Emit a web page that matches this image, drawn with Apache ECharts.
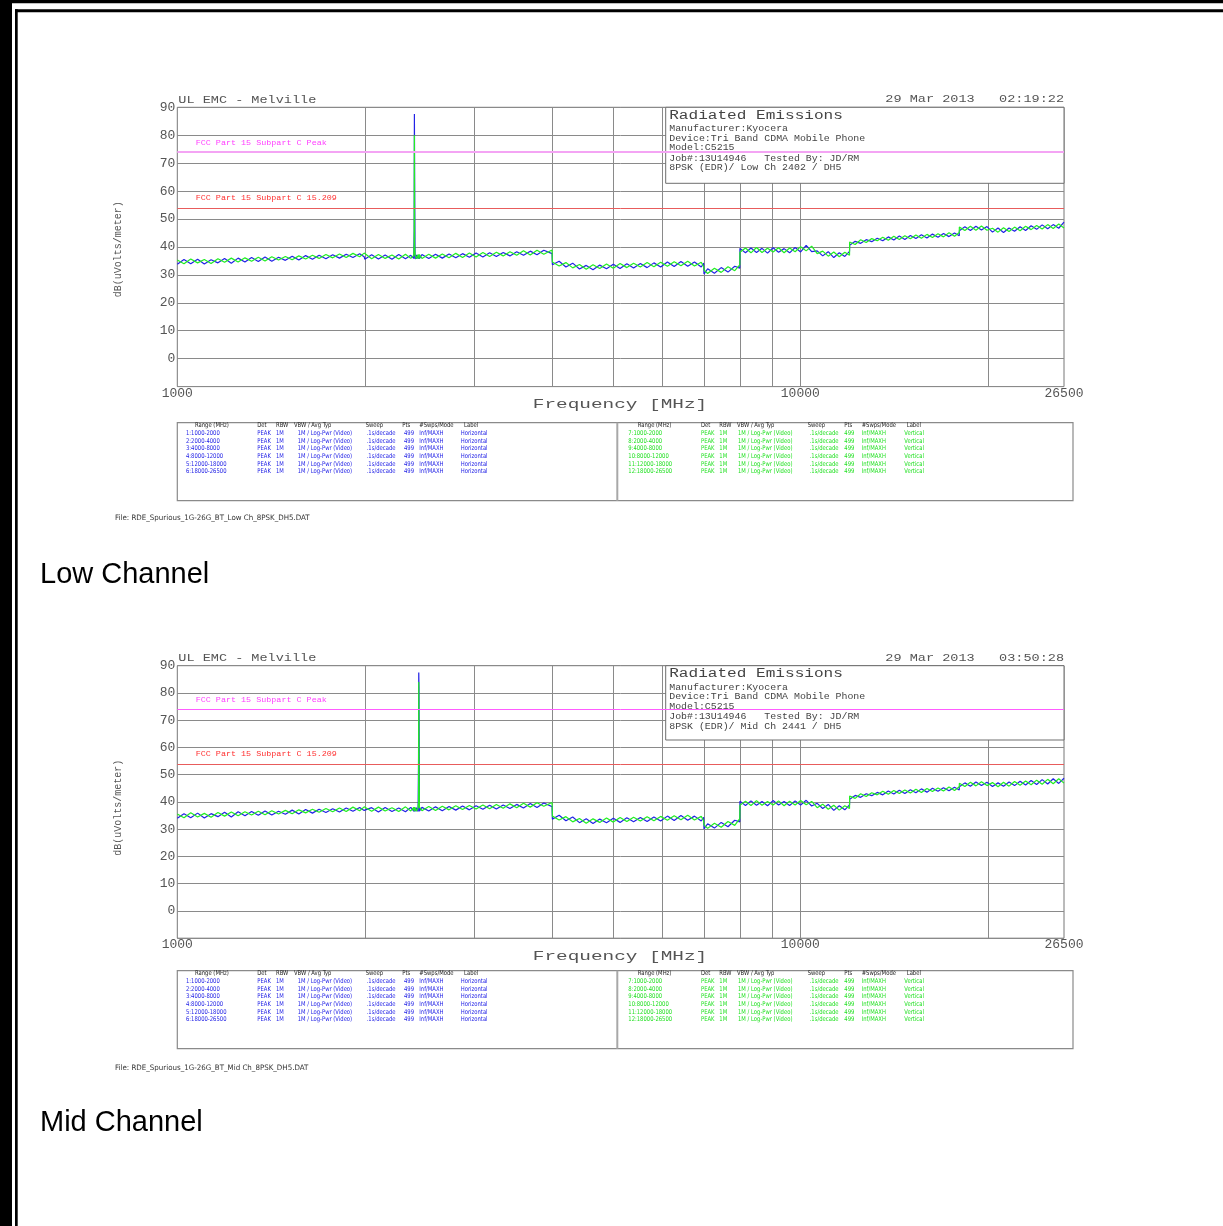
<!DOCTYPE html>
<html>
<head>
<meta charset="utf-8">
<title>Radiated Emissions 1G-26G</title>
<script src="https://cdn.jsdelivr.net/npm/echarts@6/dist/echarts.min.js"></script>
<style>
  html, body { margin: 0; padding: 0; background: #fff; }
  #chart { width: 1223px; height: 1226px; }
</style>
</head>
<body>
<div id="chart"></div>
<script>
// frequency points of the scan (MHz), one row per range
var FREQ = [
  1000, 1025, 1051, 1078, 1105, 1133, 1162, 1191, 1221, 1252, 1284, 1316, 1349, 1383, 1418, 1454, 1491, 1529, 1567, 1607, 1648, 1689, 1732, 1776, 1821, 1867, 1914, 1962, 1995,
  2000, 2051, 2103, 2156, 2211, 2267, 2324, 2370, 2396, 2400, 2402, 2404, 2408, 2420, 2435, 2439, 2441, 2443, 2447, 2470, 2533, 2597, 2663, 2730, 2799, 2870, 2943, 3017, 3094, 3172, 3252, 3335, 3419, 3506, 3595, 3686, 3779, 3875, 3995,
  4000, 4101, 4205, 4312, 4421, 4533, 4648, 4765, 4886, 5010, 5137, 5267, 5400, 5537, 5677, 5821, 5968, 6119, 6274, 6433, 6596, 6763, 6934, 6995, 7005, 7100, 7280, 7465, 7654, 7848, 7995,
  8000, 8165, 8333, 8505, 8680, 8859, 9042, 9228, 9418, 9612, 9810, 10012, 10219, 10429, 10644, 10863, 11087, 11316, 11549, 11787, 11995,
  12000, 12248, 12500, 12758, 13021, 13289, 13563, 13843, 14128, 14419, 14716, 15020, 15329, 15645, 15968, 16297, 16633, 16975, 17325, 17682, 17995,
  18000, 18372, 18750, 19137, 19531, 19934, 20345, 20764, 21192, 21629, 22075, 22530, 22994, 23468, 23952, 24446, 24950, 25464, 25989, 26500
];

// Low channel, horizontal (blue)
var LOW_H = [
  33.8, 35.5, 34.0, 35.6, 33.9, 35.4, 34.3, 35.9, 34.2, 36.0, 34.6, 36.2, 34.8, 36.4, 34.9, 36.3, 35.2, 36.7, 35.3, 36.9, 35.6, 37.0, 35.8, 37.2, 36.0, 37.4, 36.2, 37.6, 36.5,
  35.6, 37.2, 35.7, 37.1, 35.6, 37.3, 35.8, 37.0, 35.9, 46.0, 87.6, 64.5, 35.7, 37.1, 35.8, 37.2, 35.9, 37.0, 35.8, 37.3, 35.9, 37.4, 36.0, 37.5, 36.1, 37.6, 36.3, 37.8, 36.4, 37.9, 36.6, 38.0, 36.8, 38.3, 37.0, 38.5, 37.2, 38.8, 37.6,
  33.6, 34.9, 32.8, 34.2, 32.1, 33.4, 31.8, 33.5, 32.2, 33.8, 32.3, 34.0, 32.5, 34.1, 32.6, 34.3, 32.8, 34.6, 33.0, 34.8, 33.1, 34.6, 32.8, 34.2, 30.3, 32.2, 30.6, 32.6, 31.0, 33.1, 32.4,
  39.5, 37.9, 39.6, 38.0, 39.5, 37.8, 39.7, 38.1, 39.4, 37.9, 39.8, 38.2, 40.6, 38.3, 38.6, 36.8, 38.3, 36.2, 37.9, 36.6, 38.4,
  40.6, 42.0, 41.3, 42.6, 41.9, 43.1, 42.2, 43.6, 42.5, 43.9, 42.7, 44.1, 43.0, 44.4, 43.2, 44.6, 43.5, 44.8, 43.7, 45.0, 44.0,
  45.8, 47.2, 45.9, 47.4, 46.1, 47.3, 45.3, 46.8, 45.2, 46.8, 45.6, 47.2, 45.9, 47.6, 46.3, 47.9, 46.5, 48.0, 46.7, 48.9
];
// Low channel, vertical (green)
var LOW_V = [
  35.3, 34.0, 35.7, 34.3, 35.5, 34.1, 35.8, 34.5, 36.0, 34.6, 36.1, 34.9, 36.3, 35.0, 36.5, 35.3, 36.6, 35.4, 36.8, 35.7, 37.0, 35.9, 37.3, 36.1, 37.5, 36.2, 37.7, 36.5, 37.8,
  37.2, 35.8, 37.3, 35.9, 37.1, 35.7, 37.4, 35.9, 37.0, 41.0, 80.0, 40.5, 37.2, 35.8, 37.3, 35.9, 37.0, 35.7, 37.3, 35.9, 37.4, 36.0, 37.5, 36.1, 37.7, 36.2, 37.8, 36.4, 38.0, 36.6, 38.1, 36.8, 38.3, 37.0, 38.6, 37.1, 38.8, 37.4, 38.9,
  34.6, 33.2, 34.4, 32.5, 33.7, 32.0, 33.6, 32.3, 33.9, 32.4, 34.1, 32.6, 34.2, 32.8, 34.4, 32.9, 34.5, 33.1, 34.7, 33.3, 34.9, 33.2, 34.5, 32.9, 31.8, 30.5, 32.4, 30.9, 32.9, 31.5, 33.6,
  38.1, 39.6, 37.9, 39.8, 38.0, 39.5, 38.2, 39.7, 37.9, 39.6, 38.3, 40.1, 38.6, 40.3, 37.6, 38.5, 36.7, 38.2, 36.5, 38.1, 37.0,
  41.8, 40.9, 42.6, 41.6, 43.0, 42.2, 43.5, 42.4, 43.8, 42.7, 44.0, 42.9, 44.3, 43.1, 44.5, 43.4, 44.7, 43.6, 45.1, 43.8, 45.2,
  47.1, 45.9, 47.4, 46.0, 47.5, 46.0, 46.7, 45.3, 46.9, 45.5, 47.1, 45.8, 47.4, 46.2, 47.7, 46.4, 48.0, 46.6, 48.2, 46.8
];

// Mid channel, horizontal (blue)
var MID_H = [
  34.0, 35.7, 34.2, 35.9, 34.1, 35.7, 34.6, 36.2, 34.5, 36.4, 34.9, 36.5, 35.1, 36.7, 35.2, 36.6, 35.5, 37.0, 35.6, 37.2, 35.9, 37.3, 36.1, 37.5, 36.3, 37.8, 36.6, 38.0, 36.9,
  36.4, 37.9, 36.3, 38.0, 36.5, 37.8, 36.4, 38.0, 36.6, 37.7, 36.5, 38.1, 36.6, 37.9, 36.5, 56.0, 87.5, 82.0, 36.6, 38.0, 36.7, 38.2, 36.8, 38.3, 37.0, 38.5, 37.1, 38.6, 37.3, 38.8, 37.4, 38.9, 37.6, 39.1, 37.8, 39.4, 38.0, 39.6, 38.3,
  33.7, 35.1, 33.1, 34.5, 32.4, 33.8, 32.1, 33.7, 32.4, 34.0, 32.5, 34.2, 32.7, 34.3, 32.8, 34.5, 33.0, 34.8, 33.2, 35.0, 33.3, 34.8, 33.0, 34.4, 30.1, 32.0, 30.4, 32.5, 30.9, 33.3, 32.7,
  40.3, 38.7, 40.4, 38.8, 40.2, 38.6, 40.5, 38.9, 40.2, 38.7, 40.4, 38.9, 40.6, 38.5, 39.5, 37.6, 39.1, 36.9, 38.6, 37.1, 38.9,
  41.0, 42.4, 41.7, 43.0, 42.3, 43.5, 42.6, 44.0, 42.9, 44.3, 43.1, 44.5, 43.4, 44.8, 43.6, 45.0, 43.9, 45.2, 44.1, 45.4, 44.4,
  45.6, 47.0, 45.8, 47.3, 46.0, 47.2, 45.7, 47.0, 45.8, 47.3, 46.0, 47.6, 46.2, 47.9, 46.4, 48.2, 46.6, 48.5, 46.8, 48.7
];
// Mid channel, vertical (green)
var MID_V = [
  35.6, 34.2, 36.0, 34.5, 35.8, 34.4, 36.1, 34.8, 36.3, 34.9, 36.4, 35.2, 36.6, 35.3, 36.8, 35.6, 36.9, 35.7, 37.1, 36.0, 37.3, 36.2, 37.6, 36.4, 37.8, 36.5, 38.1, 36.8, 38.2,
  38.0, 36.6, 38.1, 36.7, 37.9, 36.5, 38.2, 36.7, 38.0, 36.6, 38.1, 36.8, 37.9, 36.6, 38.0, 40.0, 84.0, 53.0, 38.1, 36.8, 38.3, 36.9, 38.4, 37.1, 38.6, 37.2, 38.7, 37.4, 38.9, 37.5, 39.1, 37.7, 39.3, 37.9, 39.5, 38.1, 39.7, 38.4, 39.8,
  34.8, 33.4, 34.6, 32.7, 33.9, 32.2, 33.8, 32.5, 34.1, 32.6, 34.3, 32.8, 34.4, 33.0, 34.6, 33.1, 34.7, 33.3, 34.9, 33.5, 35.1, 33.4, 34.7, 33.1, 31.6, 30.3, 32.2, 30.7, 32.8, 31.4, 33.9,
  38.8, 40.3, 38.7, 40.5, 38.8, 40.2, 38.9, 40.4, 38.6, 40.3, 38.9, 40.5, 39.0, 40.2, 37.9, 39.2, 37.3, 38.8, 37.0, 38.6, 37.6,
  42.2, 41.3, 43.0, 42.0, 43.4, 42.6, 43.9, 42.8, 44.2, 43.1, 44.4, 43.3, 44.7, 43.5, 44.9, 43.8, 45.1, 44.0, 45.5, 44.2, 45.6,
  46.9, 45.7, 47.2, 45.9, 47.4, 46.0, 47.1, 45.6, 47.2, 45.8, 47.5, 46.1, 47.7, 46.3, 48.0, 46.5, 48.3, 46.7, 48.5, 46.9
];

var GRID_FREQ = [2000, 3000, 4000, 5000, 6000, 7000, 8000, 9000, 10000, 20000];
var LIMIT_PEAK = 74;   // FCC Part 15 Subpart C Peak
var LIMIT_209 = 54;    // FCC Part 15 Subpart C 15.209

var INFO_LOW = ['Manufacturer:Kyocera', 'Device:Tri Band CDMA Mobile Phone', 'Model:C5215',
  'Job#:13U14946   Tested By: JD/RM', '8PSK (EDR)/ Low Ch 2402 / DH5'];
var INFO_MID = ['Manufacturer:Kyocera', 'Device:Tri Band CDMA Mobile Phone', 'Model:C5215',
  'Job#:13U14946   Tested By: JD/RM', '8PSK (EDR)/ Mid Ch 2441 / DH5'];

var TABLE_HEAD = ['Range (MHz)', 'Det', 'RBW', 'VBW / Avg Typ', 'Sweep', 'Pts', '#Swps/Mode', 'Label'];
var RANGES_H = ['1:1000-2000', '2:2000-4000', '3:4000-8000', '4:8000-12000', '5:12000-18000', '6:18000-26500'];
var RANGES_V = ['7:1000-2000', '8:2000-4000', '9:4000-8000', '10:8000-12000', '11:12000-18000', '12:18000-26500'];
var ROW_SETTINGS = ['PEAK', '1M', '1M / Log-Pwr (Video)', '.1s/decade', '499', 'Inf/MAXH'];

var MONO = '"Liberation Mono", "DejaVu Sans Mono", monospace';
var NARROW = '"DejaVu Sans Condensed", "DejaVu Sans", sans-serif';
var BLUE = '#2222e6';
var GREEN = '#22ee22';

var PANELS = [
  { top: 107.3, height: 279.3, boxH: 76, tableTop: 422.7, fileY: 518.5, nameY: 575,
    stamp: '29 Mar 2013   02:19:22', info: INFO_LOW, h: LOW_H, v: LOW_V,
    peakColor: '#f4a4f4', peakWidth: 2,
    file: 'File: RDE_Spurious_1G-26G_BT_Low Ch_8PSK_DH5.DAT', name: 'Low Channel' },
  { top: 665.7, height: 272.5, boxH: 74.3, tableTop: 970.7, fileY: 1068, nameY: 1123,
    stamp: '29 Mar 2013   03:50:28', info: INFO_MID, h: MID_H, v: MID_V,
    peakColor: '#ff5cff', peakWidth: 1,
    file: 'File: RDE_Spurious_1G-26G_BT_Mid Ch_8PSK_DH5.DAT', name: 'Mid Channel' }
];

var PLOT_LEFT = 177.3;
var PLOT_W = 886.7;

// stretched plotter-style text
function stext(x, y, str, size, sx, color, align, font) {
  return {
    type: 'text', x: x, y: y, scaleX: sx, z: 6, silent: true,
    style: { text: str, fontFamily: font || MONO, fontSize: size, fill: color,
      align: align || 'left', verticalAlign: 'middle' }
  };
}

function pairs(vals) {
  return FREQ.map(function (f, i) { return [f, vals[i]]; });
}

var grids = [], xAxes = [], yAxes = [], series = [], graphics = [];

// page border
graphics.push(
  { type: 'rect', shape: { x: 0, y: 0, width: 12, height: 1226 }, style: { fill: '#000' }, z: 7 },
  { type: 'rect', shape: { x: 0, y: 0, width: 1223, height: 3.3 }, style: { fill: '#000' }, z: 7 },
  { type: 'rect', shape: { x: 15, y: 9.3, width: 2.7, height: 1217 }, style: { fill: '#000' }, z: 7 },
  { type: 'rect', shape: { x: 15, y: 9.3, width: 1208, height: 3 }, style: { fill: '#000' }, z: 7 }
);

PANELS.forEach(function (p, i) {
  grids.push({ left: PLOT_LEFT, top: p.top, width: PLOT_W, height: p.height,
    show: true, borderColor: '#777', borderWidth: 1, backgroundColor: 'transparent' });

  xAxes.push({
    type: 'log', logBase: 10, gridIndex: i, min: 1000, max: 26500,
    axisLine: { show: false }, axisTick: { show: false }, splitLine: { show: false },
    axisLabel: { fontFamily: MONO, fontSize: 13, color: '#555', margin: 0,
      showMinLabel: true, showMaxLabel: true,
      formatter: function (v) { return String(Math.round(v)); } }
  });
  yAxes.push({
    type: 'value', gridIndex: i, min: -10, max: 90, interval: 10,
    axisLine: { show: false }, axisTick: { show: false },
    splitLine: { lineStyle: { color: '#8a8a8a', width: 1 } },
    axisLabel: { fontFamily: MONO, fontSize: 13, color: '#555', margin: 2,
      formatter: function (v) { return v === -10 ? '' : String(v); } }
  });

  // decade sub-gridlines
  series.push({
    type: 'line', xAxisIndex: i, yAxisIndex: i, data: [], silent: true, z: 1,
    markLine: { silent: true, z: 1, symbol: ['none', 'none'], label: { show: false },
      lineStyle: { color: '#8a8a8a', width: 1, type: 'solid' },
      data: GRID_FREQ.map(function (f) { return { xAxis: f }; }) }
  });
  series.push({
    name: 'Horizontal', type: 'line', xAxisIndex: i, yAxisIndex: i, data: pairs(p.h),
    symbol: 'none', silent: true, z: 3, emphasis: { disabled: true },
    lineStyle: { color: BLUE, width: 1.2 }, itemStyle: { color: BLUE }
  });
  series.push({
    name: 'Vertical', type: 'line', xAxisIndex: i, yAxisIndex: i, data: pairs(p.v),
    symbol: 'none', silent: true, z: 3, emphasis: { disabled: true },
    lineStyle: { color: GREEN, width: 1.2 }, itemStyle: { color: GREEN }
  });
  series.push({
    type: 'line', xAxisIndex: i, yAxisIndex: i, data: [], silent: true, z: 10,
    markLine: { silent: true, z: 10, symbol: ['none', 'none'], label: { show: false },
      data: [
        { yAxis: LIMIT_PEAK, lineStyle: { color: p.peakColor, width: p.peakWidth, type: 'solid' } },
        { yAxis: LIMIT_209, lineStyle: { color: '#e85c5c', width: 1, type: 'solid' } }
      ] }
  });

  var top = p.top, bottom = p.top + p.height, unit = p.height / 100;
  var right = PLOT_LEFT + PLOT_W;

  // headings
  graphics.push(stext(PLOT_LEFT + 1, top - 7.5, 'UL EMC - Melville', 11, 1.23, '#555'));
  graphics.push(stext(right, top - 8, p.stamp, 11, 1.23, '#555', 'right'));
  graphics.push(stext(620, bottom + 18, 'Frequency [MHz]', 12.5, 1.55, '#555', 'center'));
  var yn = stext(118, top + 142, 'dB(uVolts/meter)', 10, 1.0, '#555', 'center');
  yn.rotation = Math.PI / 2;
  graphics.push(yn);

  // limit captions
  graphics.push(stext(195.7, top + (90 - LIMIT_PEAK) * unit - 9.3, 'FCC Part 15 Subpart C Peak', 7, 1.2, '#ff40ff'));
  graphics.push(stext(195.7, top + (90 - LIMIT_209) * unit - 9.6, 'FCC Part 15 Subpart C 15.209', 7, 1.2, '#ff3030'));

  // info box
  var bx = 665.7;
  graphics.push({ type: 'rect', z: 5, silent: true,
    shape: { x: bx, y: top, width: right - bx, height: p.boxH },
    style: { fill: '#fff', stroke: '#6e6e6e', lineWidth: 1 } });
  graphics.push(stext(bx + 3.5, top + 8.5, 'Radiated Emissions', 12, 1.34, '#444'));
  var rel = [21.8, 31.4, 40.7, 51.4, 60.5];
  p.info.forEach(function (t, k) {
    graphics.push(stext(bx + 3.5, top + rel[k], t, 9, 1.1, '#444'));
  });

  // settings table
  var tt = p.tableTop;
  graphics.push({ type: 'rect', z: 5, silent: true,
    shape: { x: PLOT_LEFT, y: tt, width: 895.7, height: 78 },
    style: { fill: 'none', stroke: '#8a8a8a', lineWidth: 1.2 } });
  graphics.push({ type: 'line', z: 5, silent: true,
    shape: { x1: 617.3, y1: tt, x2: 617.3, y2: tt + 78 },
    style: { stroke: '#a8a8a8', lineWidth: 2 } });

  var sides = [
    { ranges: RANGES_H, color: BLUE, label: 'Horizontal',
      head: [195, 257.3, 276, 294, 365.7, 402.3, 419.3, 464],
      col: [186, 257.3, 276, 297.7, 366.7, 404, 419.3, 460.7] },
    { ranges: RANGES_V, color: '#1ee01e', label: 'Vertical',
      head: [637.7, 701, 719.3, 737, 807.7, 844.3, 861.7, 906.7],
      col: [628.3, 701, 719.3, 738, 809.7, 844.3, 861.7, 904.3] }
  ];
  sides.forEach(function (s) {
    TABLE_HEAD.forEach(function (h, c) {
      graphics.push(stext(s.head[c], tt + 2.8, h, 6.5, 0.9, '#222', 'left', NARROW));
    });
    s.ranges.forEach(function (r, k) {
      var y = tt + 10.6 + k * 7.7;
      var cells = [r].concat(ROW_SETTINGS, [s.label]);
      cells.forEach(function (txt, c) {
        graphics.push(stext(s.col[c], y, txt, 6.5, 0.9, s.color, 'left', NARROW));
      });
    });
  });

  graphics.push(stext(115, p.fileY, p.file, 7.5, 1.05, '#333', 'left', NARROW));
  graphics.push(stext(40, p.nameY, p.name, 29, 1, '#000', 'left', '"Liberation Sans", Arial, sans-serif'));
});

var chart = echarts.init(document.getElementById('chart'));
chart.setOption({
  animation: false,
  grid: grids,
  xAxis: xAxes,
  yAxis: yAxes,
  series: series,
  graphic: { elements: graphics }
});
</script>
</body>
</html>
